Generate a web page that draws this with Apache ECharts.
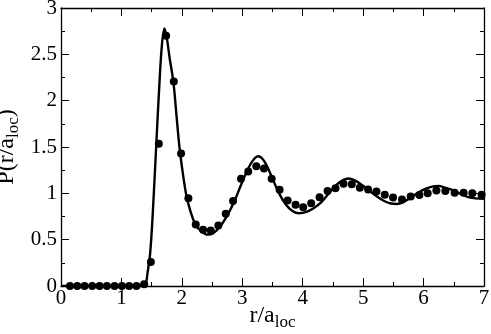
<!DOCTYPE html>
<html lang="en">
<head>
    <meta charset="UTF-8">
    <title>P(r/a_loc)</title>
    <script type="text/javascript" src="https://cdn.jsdelivr.net/npm/echarts@6/dist/echarts.min.js"></script>
    <style>
        html, body { margin: 0; padding: 0; background: #fff; }
    </style>
</head>
<body>
<div id="main" style="width: 491px;height:334px;"></div>
<script type="text/javascript">
    // simulation points (dots)
    var dotX = [0.149, 0.269, 0.39, 0.517, 0.638, 0.76, 0.886, 1.008, 1.128, 1.249, 1.376,
        1.487, 1.619, 1.74, 1.867, 1.987, 2.108, 2.23, 2.351, 2.478, 2.604, 2.726, 2.847, 2.979, 3.099, 3.232,
        3.359, 3.486, 3.618, 3.75, 3.882, 4.008, 4.14, 4.279, 4.411, 4.543, 4.675, 4.812, 4.945,
        5.082, 5.22, 5.358, 5.495, 5.643, 5.787, 5.931, 6.068, 6.212, 6.36, 6.514, 6.663, 6.807, 6.96];
    var dotY = [0, 0, 0, 0, 0, 0, 0, 0, 0, 0, 0.02,
        0.259, 1.534, 2.70, 2.206, 1.43, 0.948, 0.665, 0.608, 0.60, 0.654, 0.78, 0.916, 1.157, 1.236, 1.293,
        1.268, 1.157, 1.039, 0.923, 0.877, 0.851, 0.894, 0.959, 1.024, 1.056, 1.103, 1.099, 1.06,
        1.042, 1.02, 0.985, 0.956, 0.934, 0.967, 0.981, 1.002, 1.031, 1.024, 1.006, 1.006, 1.002, 0.985];

    // theory curve
    var curveX = [0, 1.3, 1.38, 1.41, 1.43, 1.475, 1.52, 1.577, 1.63, 1.67, 1.712, 1.75, 1.8, 1.86, 1.91, 1.96,
        2.02, 2.08, 2.15, 2.22, 2.32, 2.43, 2.52, 2.63, 2.75, 2.86, 2.96, 3.05, 3.16, 3.26, 3.36, 3.48, 3.6,
        3.72, 3.83, 3.94, 4.06, 4.18, 4.3, 4.42, 4.54, 4.66, 4.76, 4.86, 4.98, 5.1, 5.22, 5.34, 5.46, 5.56,
        5.68, 5.8, 5.92, 6.04, 6.16, 6.24, 6.36, 6.5, 6.62, 6.74, 6.86, 7];
    var curveY = [0, 0, 0.005, 0.04, 0.13, 0.35, 0.8, 1.53, 2.2, 2.6, 2.78, 2.68, 2.45, 2.2, 1.85, 1.5,
        1.2, 0.96, 0.79, 0.67, 0.59, 0.554, 0.57, 0.64, 0.76, 0.9, 1.06, 1.2, 1.34, 1.4, 1.35, 1.19, 1.01,
        0.88, 0.81, 0.785, 0.8, 0.84, 0.9, 0.99, 1.08, 1.14, 1.16, 1.14, 1.09, 1.03, 0.97, 0.92, 0.89, 0.885,
        0.91, 0.96, 1.01, 1.05, 1.075, 1.08, 1.06, 1.03, 0.99, 0.96, 0.945, 0.94];

    var xTicks = ['0', '1', '2', '3', '4', '5', '6', '7'];
    var yTicks = ['0', '0.5', '1', '1.5', '2', '2.5', '3'];

    function pairs(xs, ys) {
        var out = [];
        for (var i = 0; i < xs.length; i++) {
            out.push([xs[i], ys[i]]);
        }
        return out;
    }

    var serif = 'Liberation Serif';
    var axisLine = { show: true, onZero: false, lineStyle: { color: '#000', width: 1.3 } };
    var tickMajor = { show: true, inside: true, length: 8, lineStyle: { color: '#000', width: 1 } };
    var tickMinor = { show: true, splitNumber: 2, length: 4, lineStyle: { color: '#000', width: 1 } };
    var nameRich = {
        n: { fontFamily: serif, fontSize: 24, color: '#000' },
        s: { fontFamily: serif, fontSize: 17, color: '#000', padding: [13, 0, 0, 0] }
    };

    var option = {
        animation: false,
        backgroundColor: '#fff',
        grid: {
            left: 61,
            right: 7,
            top: 8,
            bottom: 48,
            containLabel: false,
            outerBoundsMode: 'none'
        },
        xAxis: [{
            type: 'value',
            min: 0,
            max: 7,
            interval: 1,
            axisLine: axisLine,
            axisTick: tickMajor,
            minorTick: tickMinor,
            splitLine: { show: false },
            axisLabel: {
                color: '#000',
                fontFamily: serif,
                fontSize: 21,
                margin: 2,
                formatter: function (v) { return xTicks[Math.round(v)]; }
            },
            name: '{n|r/a}{s|loc}',
            nameLocation: 'middle',
            nameGap: 15,
            nameMoveOverlap: false,
            nameTextStyle: { rich: nameRich }
        }, {
            type: 'value',
            position: 'top',
            min: 0,
            max: 7,
            interval: 1,
            axisLine: axisLine,
            axisTick: tickMajor,
            minorTick: tickMinor,
            splitLine: { show: false },
            axisLabel: { show: false }
        }],
        yAxis: [{
            type: 'value',
            min: 0,
            max: 3,
            interval: 0.5,
            axisLine: axisLine,
            axisTick: tickMajor,
            minorTick: tickMinor,
            splitLine: { show: false },
            axisLabel: {
                color: '#000',
                fontFamily: serif,
                fontSize: 21,
                margin: 4,
                formatter: function (v) { return yTicks[Math.round(v * 2)]; }
            },
            name: '{n|P(r/a}{s|loc}{n|)}',
            nameLocation: 'middle',
            nameRotate: 90,
            nameGap: 39,
            nameMoveOverlap: false,
            nameTextStyle: { rich: nameRich }
        }, {
            type: 'value',
            position: 'right',
            min: 0,
            max: 3,
            interval: 0.5,
            axisLine: axisLine,
            axisTick: tickMajor,
            minorTick: tickMinor,
            splitLine: { show: false },
            axisLabel: { show: false }
        }],
        series: [
            {
                name: 'theory',
                type: 'line',
                smooth: 0.35,
                showSymbol: false,
                lineStyle: { color: '#000', width: 2.4 },
                data: pairs(curveX, curveY),
                z: 2
            },
            {
                name: 'simulation',
                type: 'scatter',
                symbol: 'circle',
                symbolSize: 8,
                itemStyle: { color: '#000', opacity: 1 },
                data: pairs(dotX, dotY),
                z: 3
            }
        ]
    };

    var myChart = echarts.init(document.getElementById('main'));
    myChart.setOption(option);
</script>

</body>
</html>
